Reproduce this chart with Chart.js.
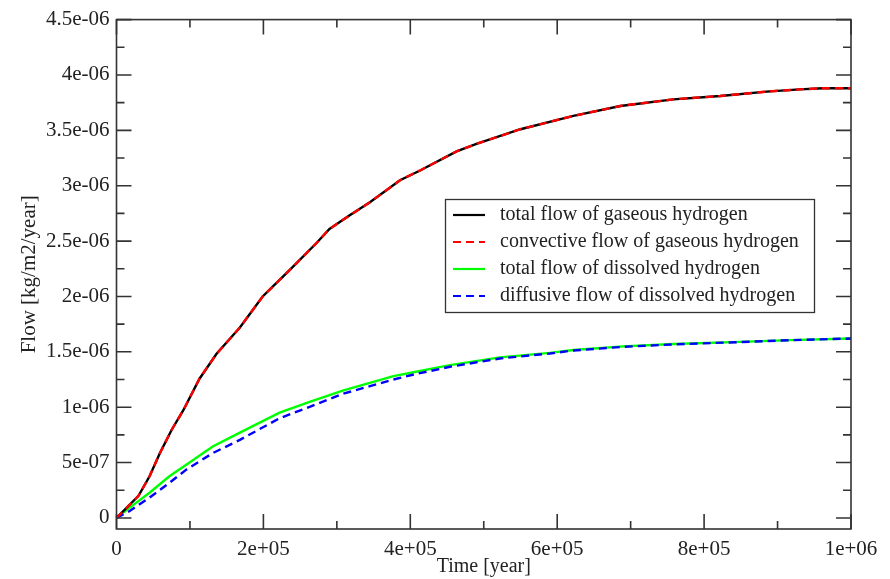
<!DOCTYPE html>
<html>
<head>
<meta charset="utf-8">
<script src="https://cdn.jsdelivr.net/npm/chart.js@4/dist/chart.umd.min.js"></script>
<style>
  html, body { margin: 0; padding: 0; background: #fff; }
  #wrap { width: 890px; height: 579px; }
</style>
</head>
<body>
<div id="wrap"><canvas id="flowChart" width="890" height="579"></canvas></div>
<script>
// time axis (years) for the gaseous curves
const gasTime = [0, 30e3, 45e3, 59e3, 75e3, 91e3, 113e3, 136e3, 168e3, 199e3, 213e3, 236e3, 272e3, 290e3, 317e3, 345e3, 386e3, 414e3, 463e3, 491e3, 550e3, 622e3, 686e3, 758e3, 822e3, 885e3, 930e3, 962e3, 1000e3];
const gasTotal = [0, 2.0e-7, 3.76e-7, 5.85e-7, 7.94e-7, 9.73e-7, 1.257e-6, 1.48e-6, 1.72e-6, 2.0e-6, 2.09e-6, 2.24e-6, 2.48e-6, 2.61e-6, 2.73e-6, 2.85e-6, 3.05e-6, 3.14e-6, 3.31e-6, 3.38e-6, 3.51e-6, 3.63e-6, 3.72e-6, 3.78e-6, 3.81e-6, 3.85e-6, 3.87e-6, 3.88e-6, 3.88e-6];
const gasConvective = [0, 2.0e-7, 3.76e-7, 5.85e-7, 7.94e-7, 9.73e-7, 1.257e-6, 1.48e-6, 1.72e-6, 2.0e-6, 2.09e-6, 2.24e-6, 2.48e-6, 2.61e-6, 2.73e-6, 2.85e-6, 3.05e-6, 3.14e-6, 3.31e-6, 3.38e-6, 3.51e-6, 3.63e-6, 3.72e-6, 3.78e-6, 3.81e-6, 3.85e-6, 3.87e-6, 3.88e-6, 3.88e-6];

// time axis for the dissolved curves
const dissTime = [0, 18e3, 45e3, 72e3, 95e3, 131e3, 168e3, 222e3, 263e3, 308e3, 377e3, 408e3, 454e3, 522e3, 590e3, 622e3, 690e3, 758e3, 849e3, 917e3, 1000e3];
const dissTotal = [0, 0.93e-7, 2.27e-7, 3.76e-7, 4.81e-7, 6.45e-7, 7.7e-7, 9.5e-7, 1.047e-6, 1.15e-6, 1.28e-6, 1.32e-6, 1.38e-6, 1.45e-6, 1.49e-6, 1.517e-6, 1.549e-6, 1.57e-6, 1.59e-6, 1.606e-6, 1.62e-6];
const dissDiffusive = [0, 0.63e-7, 1.83e-7, 3.17e-7, 4.36e-7, 5.85e-7, 7.05e-7, 9.0e-7, 1.003e-6, 1.12e-6, 1.25e-6, 1.30e-6, 1.365e-6, 1.44e-6, 1.485e-6, 1.512e-6, 1.545e-6, 1.567e-6, 1.588e-6, 1.605e-6, 1.62e-6];

const seriesNames = [
  'total flow of gaseous hydrogen',
  'convective flow of gaseous hydrogen',
  'total flow of dissolved hydrogen',
  'diffusive flow of dissolved hydrogen'
];

const xTicks = [0, 2e5, 4e5, 6e5, 8e5, 1e6];
const xMinor = [1e5, 3e5, 5e5, 7e5, 9e5];
const yTicks = [0, 5e-7, 1e-6, 1.5e-6, 2e-6, 2.5e-6, 3e-6, 3.5e-6, 4e-6, 4.5e-6];
const yMinor = [2.5e-7, 7.5e-7, 1.25e-6, 1.75e-6, 2.25e-6, 2.75e-6, 3.25e-6, 3.75e-6, 4.25e-6];

const FONT = '"Liberation Serif", "Times New Roman", serif';
const INK = '#222';

// exponent format like 4.5e-06, 2e+05
function fmt(v) {
  if (v === 0) return '0';
  const [m, e] = v.toExponential().split('e');
  const n = parseInt(e, 10);
  const ex = String(Math.abs(n)).padStart(2, '0');
  return m + 'e' + (n < 0 ? '-' : '+') + ex;
}

const pairs = (xs, ys) => xs.map((x, i) => ({ x, y: ys[i] }));

// frame + inward ticks on all four sides
const framePlugin = {
  id: 'frame',
  afterDatasetsDraw(chart) {
    const { ctx, chartArea: a, scales: { x, y } } = chart;
    ctx.save();
    ctx.strokeStyle = '#333';
    ctx.lineWidth = 1.6;
    ctx.strokeRect(a.left, a.top, a.right - a.left, a.bottom - a.top);
    const tick = (vals, len) => {
      vals.forEach(v => {
        const px = x.getPixelForValue(v);
        ctx.beginPath();
        ctx.moveTo(px, a.bottom); ctx.lineTo(px, a.bottom - len);
        ctx.moveTo(px, a.top); ctx.lineTo(px, a.top + len);
        ctx.stroke();
      });
    };
    const ytick = (vals, len) => {
      vals.forEach(v => {
        const py = y.getPixelForValue(v);
        ctx.beginPath();
        ctx.moveTo(a.left, py); ctx.lineTo(a.left + len, py);
        ctx.moveTo(a.right, py); ctx.lineTo(a.right - len, py);
        ctx.stroke();
      });
    };
    tick(xTicks, 15); tick(xMinor, 8);
    ytick(yTicks, 15); ytick(yMinor, 8);
    ctx.restore();
  }
};

// boxed legend inside the plot
const boxLegend = {
  id: 'boxLegend',
  afterDraw(chart) {
    const { ctx } = chart;
    const left = 445.5, top = 199.5, w = 369, h = 113, row = 27;
    ctx.save();
    ctx.fillStyle = '#fff';
    ctx.fillRect(left, top, w, h);
    ctx.strokeStyle = '#333';
    ctx.lineWidth = 1.3;
    ctx.strokeRect(left, top, w, h);
    ctx.font = '20px ' + FONT;
    ctx.textBaseline = 'middle';
    chart.data.datasets.forEach((ds, i) => {
      const cy = top + 15.5 + i * row;
      ctx.beginPath();
      ctx.strokeStyle = ds.borderColor;
      ctx.lineWidth = 2.2;
      ctx.setLineDash(ds.borderDash || []);
      ctx.moveTo(453, cy); ctx.lineTo(485, cy);
      ctx.stroke();
      ctx.setLineDash([]);
      ctx.fillStyle = INK;
      ctx.fillText(ds.label, 500, cy);
    });
    ctx.restore();
  }
};

new Chart(document.getElementById('flowChart'), {
  type: 'scatter',
  data: {
    datasets: [
      { label: seriesNames[0], data: pairs(gasTime, gasTotal), borderColor: '#000000', order: 1 },
      { label: seriesNames[1], data: pairs(gasTime, gasConvective), borderColor: '#ff0000', borderDash: [8, 5], order: 0 },
      { label: seriesNames[2], data: pairs(dissTime, dissTotal), borderColor: '#00ff00', order: 1 },
      { label: seriesNames[3], data: pairs(dissTime, dissDiffusive), borderColor: '#0000ff', borderDash: [8, 5], order: 0 }
    ].map(d => Object.assign({ showLine: true, pointRadius: 0, borderWidth: 2.4, tension: 0, fill: false }, d))
  },
  options: {
    responsive: false,
    animation: false,
    layout: { padding: { top: 15, right: 39, left: 0, bottom: 0 } },
    plugins: { legend: { display: false }, tooltip: { enabled: false } },
    scales: {
      x: {
        type: 'linear', min: 0, max: 1e6,
        afterBuildTicks: s => { s.ticks = xTicks.map(v => ({ value: v })); },
        afterFit: s => { s.height = 50; },
        grid: { display: false, drawTicks: false },
        border: { display: false },
        ticks: { callback: v => fmt(v), padding: 8, maxRotation: 0, autoSkip: false, color: INK, font: { family: FONT, size: 21 } },
        title: { display: true, text: 'Time [year]', color: INK, font: { family: FONT, size: 20 }, padding: { top: 0, bottom: 0 } }
      },
      y: {
        type: 'linear', min: -1e-7, max: 4.5e-6,
        afterBuildTicks: s => { s.ticks = yTicks.map(v => ({ value: v })); },
        afterFit: s => { s.width = 116.5; },
        grid: { display: false, drawTicks: false },
        border: { display: false },
        ticks: { callback: v => fmt(v), padding: 7, autoSkip: false, color: INK, font: { family: FONT, size: 21 } },
        title: { display: true, text: 'Flow [kg/m2/year]', color: INK, font: { family: FONT, size: 21 }, padding: { top: 17, bottom: 0 } }
      }
    }
  },
  plugins: [framePlugin, boxLegend]
});
</script>
</body>
</html>
